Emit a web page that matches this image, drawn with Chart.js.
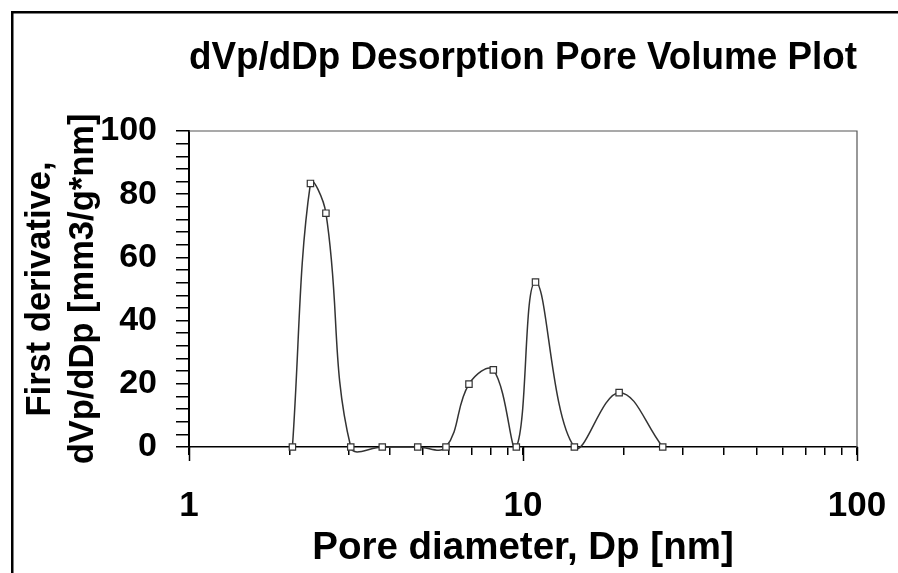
<!DOCTYPE html>
<html>
<head>
<meta charset="utf-8">
<script src="https://cdn.jsdelivr.net/npm/chart.js@4.4.0/dist/chart.umd.min.js"></script>
<style>
  html, body { margin: 0; padding: 0; background: #fff; overflow: hidden; }
  canvas { display: block; }
</style>
</head>
<body>
<canvas id="poreChart" width="898" height="573"></canvas>
<script>
// Desorption branch: pore diameter [nm] and dVp/dDp [mm3/g*nm]
const poreDiameter = [2.04, 2.31, 2.57, 3.05, 3.79, 4.84, 5.88, 6.89, 8.15, 9.55, 10.9, 14.25, 19.4, 26.2]
const dVdDp = [0, 83.4, 74, 0, 0, 0, 0, 19.9, 24.4, 0, 52.2, 0, 17.2, 0]

// Axis ticks (log x axis gets a mark at every integer multiple of a decade)
const xTickValues = [1, 2, 3, 4, 5, 6, 7, 8, 9, 10, 20, 30, 40, 50, 60, 70, 80, 90, 100]
const xTickLabels = [1, 10, 100]
const yTickLabels = [0, 20, 40, 60, 80, 100]

const FONT = "'Liberation Sans', Arial, sans-serif"
Chart.defaults.color = "#000"
Chart.defaults.font.family = FONT
Chart.defaults.font.weight = "bold"

// Outer box, plot frame and the longer decade ticks
const framePlugin = {
    id: "frame",
    beforeDraw(chart) {
        const ctx = chart.ctx
        ctx.save()
        ctx.fillStyle = "#fff"
        ctx.fillRect(0, 0, chart.width, chart.height)
        ctx.fillStyle = "#000"
        ctx.fillRect(11, 11, 2.5, chart.height - 11)
        ctx.fillRect(11, 11, chart.width - 11, 2.5)
        ctx.restore()
    },
    afterDraw(chart) {
        const { ctx, chartArea } = chart
        const x = chart.scales.x
        ctx.save()
        ctx.strokeStyle = "#555"
        ctx.lineWidth = 1.2
        ctx.beginPath()
        ctx.moveTo(chartArea.left, chartArea.top)
        ctx.lineTo(chartArea.right, chartArea.top)
        ctx.lineTo(chartArea.right, chartArea.bottom)
        ctx.stroke()
        ctx.strokeStyle = "#000"
        ctx.lineWidth = 1.5
        xTickLabels.forEach((v) => {
            const px = Math.round(x.getPixelForValue(v)) + 0.5
            ctx.beginPath()
            ctx.moveTo(px, chartArea.bottom)
            ctx.lineTo(px, chartArea.bottom + 14)
            ctx.stroke()
        })
        ctx.restore()
    },
}

const ctx = document.getElementById("poreChart").getContext("2d")

new Chart(ctx, {
    type: "line",
    data: {
        datasets: [
            {
                data: poreDiameter.map((d, i) => ({ x: d, y: dVdDp[i] })),
                borderColor: "#333",
                borderWidth: 1.5,
                tension: 0.4,
                capBezierPoints: false,
                clip: 6,
                pointStyle: "rect",
                pointRadius: 4.5,
                pointBackgroundColor: "#fff",
                pointBorderColor: "#333",
                pointBorderWidth: 1.2,
            },
        ],
    },
    options: {
        responsive: false,
        animation: false,
        layout: {
            padding: { left: 0, top: 0, right: 41, bottom: 0 },
        },
        plugins: {
            legend: { display: false },
            tooltip: { enabled: false },
            title: {
                display: true,
                text: "dVp/dDp Desorption Pore Volume Plot",
                fullSize: false,
                color: "#000",
                font: { size: 38, weight: "bold", lineHeight: 1.2 },
                padding: { top: 36, bottom: 49.4 },
            },
        },
        scales: {
            x: {
                type: "logarithmic",
                min: 1,
                max: 100,
                afterBuildTicks: (scale) => {
                    scale.ticks = xTickValues.map((v) => ({ value: v }))
                },
                afterFit: (scale) => {
                    scale.height = 126
                    scale.paddingLeft = 0
                    scale.paddingRight = 0
                },
                ticks: {
                    autoSkip: false,
                    maxRotation: 0,
                    padding: 30,
                    font: { size: 35, weight: "bold" },
                    callback: (value) =>
                        xTickLabels.includes(value) ? String(value) : "",
                },
                grid: {
                    drawOnChartArea: false,
                    drawTicks: true,
                    tickLength: 8,
                    color: "#000",
                    lineWidth: 1.5,
                },
                border: { display: true, color: "#000", width: 1.5 },
                title: {
                    display: true,
                    text: "Pore diameter, Dp [nm]",
                    font: { size: 38.5, weight: "bold", lineHeight: 1.2 },
                    padding: { bottom: 2 },
                },
            },
            y: {
                min: 0,
                max: 100,
                afterFit: (scale) => {
                    scale.width = 189
                    scale.paddingTop = 0
                    scale.paddingBottom = 0
                },
                ticks: {
                    stepSize: 4,
                    autoSkip: false,
                    padding: 19,
                    font: { size: 34, weight: "bold" },
                    callback: (value) =>
                        yTickLabels.includes(value) ? String(value) : "",
                },
                grid: {
                    drawOnChartArea: false,
                    drawTicks: true,
                    tickLength: 13,
                    color: "#000",
                    lineWidth: 1.5,
                },
                border: { display: true, color: "#000", width: 2 },
                title: {
                    display: true,
                    text: ["First derivative,", "dVp/dDp [mm3/g*nm]"],
                    font: { size: 34.5, weight: "bold", lineHeight: 1.24 },
                    padding: { top: 19 },
                },
            },
        },
    },
    plugins: [framePlugin],
})
</script>
</body>
</html>
